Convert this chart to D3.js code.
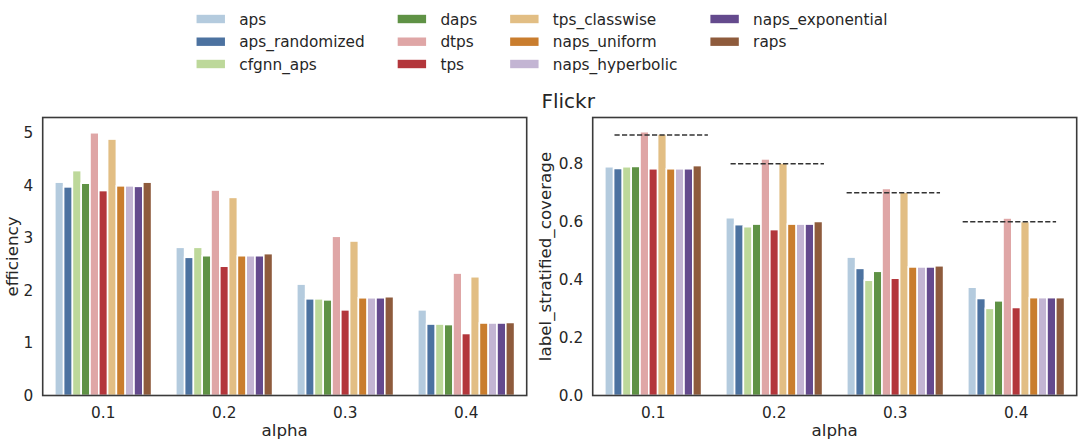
<!DOCTYPE html>
<html>
<head>
<meta charset="utf-8">
<script src="https://cdn.jsdelivr.net/npm/d3@7"></script>
<style>
  body { margin: 0; background: #fff; }
  svg { display: block; font-family: "DejaVu Sans", sans-serif; }
</style>
</head>
<body>
<script>
var alphas = ["0.1", "0.2", "0.3", "0.4"];
var methods = ["aps", "aps_randomized", "cfgnn_aps", "daps", "dtps", "tps",
  "tps_classwise", "naps_uniform", "naps_hyperbolic", "naps_exponential", "raps"];
var colors = ["#b4cbde", "#4c72a0", "#bdd89a", "#5f9245", "#dfa6a6", "#b3363b",
  "#e2be84", "#c97d2e", "#c3b5d3", "#644a8d", "#8e5b3c"];

// efficiency, one array per alpha (same order as methods)
var eff01 = [4.06, 3.97, 4.28, 4.04, 5.00, 3.90, 4.88, 3.99, 3.99, 3.98, 4.06];
var eff02 = [2.82, 2.63, 2.82, 2.66, 3.91, 2.46, 3.77, 2.66, 2.66, 2.66, 2.70];
var eff03 = [2.12, 1.84, 1.84, 1.82, 3.03, 1.63, 2.94, 1.86, 1.86, 1.86, 1.88];
var eff04 = [1.63, 1.36, 1.36, 1.35, 2.33, 1.18, 2.26, 1.38, 1.38, 1.38, 1.39];

// label_stratified_coverage
var cov01 = [0.790, 0.784, 0.790, 0.791, 0.911, 0.783, 0.903, 0.783, 0.783, 0.783, 0.794];
var cov02 = [0.614, 0.590, 0.583, 0.592, 0.817, 0.573, 0.803, 0.592, 0.592, 0.592, 0.601];
var cov03 = [0.478, 0.439, 0.398, 0.429, 0.715, 0.405, 0.702, 0.444, 0.444, 0.444, 0.448];
var cov04 = [0.374, 0.335, 0.301, 0.327, 0.613, 0.304, 0.601, 0.338, 0.338, 0.338, 0.338];

// target coverage (1 - alpha)
var targets = [0.9, 0.8, 0.7, 0.6];

var effTicks = [0, 1, 2, 3, 4, 5];
var covTicks = [0, 0.2, 0.4, 0.6, 0.8];

function toRows(arrs) {
  var rows = [];
  arrs.forEach(function(a, i) {
    a.forEach(function(v, j) {
      rows.push({alpha: alphas[i], method: methods[j], value: v});
    });
  });
  return rows;
}
var effData = toRows([eff01, eff02, eff03, eff04]);
var covData = toRows([cov01, cov02, cov03, cov04]);

var W = 1084, H = 444;
var svg = d3.select("body").append("svg")
  .attr("width", W)
  .attr("height", H);

var color = d3.scaleOrdinal().domain(methods).range(colors);

var plotTop = 117.5, plotBottom = 395.5;

function drawPanel(opts) {
  var x = d3.scaleBand().domain(alphas).range([opts.left, opts.right]);
  var xm = d3.scaleBand().domain(methods)
    .range([x.bandwidth() * 0.1, x.bandwidth() * 0.9]);
  var y = d3.scaleLinear().domain(opts.domain).range([plotBottom, plotTop]);

  var g = svg.append("g");

  //bars
  g.selectAll("rect.bar")
    .data(opts.data)
    .enter().append("rect")
    .attr("class", "bar")
    .attr("x", function(d) { return x(d.alpha) + xm(d.method); })
    .attr("y", function(d) { return y(d.value); })
    .attr("width", xm.bandwidth())
    .attr("height", function(d) { return y(0) - y(d.value); })
    .attr("fill", function(d) { return color(d.method); })
    .attr("stroke", "#fff")
    .attr("stroke-width", 1.6);

  //dashed target lines
  if (opts.targets) {
    var w = opts.right - opts.left;
    g.selectAll("line.target")
      .data(opts.targets)
      .enter().append("line")
      .attr("class", "target")
      .attr("x1", function(d, i) { return opts.left + w * (0.045 + 0.2398 * i); })
      .attr("x2", function(d, i) { return opts.left + w * (0.238 + 0.2398 * i); })
      .attr("y1", function(d) { return y(d); })
      .attr("y2", function(d) { return y(d); })
      .attr("stroke", "#333")
      .attr("stroke-width", 1.5)
      .attr("stroke-dasharray", "5.2,2.3");
  }

  //axes
  var ax = g.append("g")
    .attr("transform", "translate(0," + plotBottom + ")")
    .call(d3.axisBottom(x).tickSize(0).tickPadding(12));
  ax.select(".domain").remove();

  var ay = g.append("g")
    .attr("transform", "translate(" + opts.left + ",0)")
    .call(d3.axisLeft(y).tickValues(opts.ticks).tickFormat(opts.fmt)
      .tickSize(0).tickPadding(9.5));
  ay.select(".domain").remove();

  g.selectAll(".tick text")
    .attr("fill", "#262626")
    .style("font-family", "'DejaVu Sans', sans-serif")
    .style("font-size", "15.3px");

  //frame
  g.append("rect")
    .attr("x", opts.left)
    .attr("y", plotTop)
    .attr("width", opts.right - opts.left)
    .attr("height", plotBottom - plotTop)
    .attr("fill", "none")
    .attr("stroke", "#3a3a3a")
    .attr("stroke-width", 1.6);

  //axis labels
  g.append("text")
    .attr("x", (opts.left + opts.right) / 2)
    .attr("y", 436)
    .attr("text-anchor", "middle")
    .attr("fill", "#262626")
    .style("font-size", "16.7px")
    .text("alpha");

  g.append("text")
    .attr("transform", "translate(" + opts.ylabelX + "," + (plotTop + plotBottom) / 2 + ") rotate(-90)")
    .attr("text-anchor", "middle")
    .attr("fill", "#262626")
    .style("font-size", "16.7px")
    .text(opts.ylabel);
}

drawPanel({
  left: 42.7, right: 526.7,
  domain: [0, 5.29],
  data: effData,
  ticks: effTicks,
  fmt: d3.format("d"),
  ylabel: "efficiency",
  ylabelX: 17.5
});

drawPanel({
  left: 592.7, right: 1076.7,
  domain: [0, 0.96],
  data: covData,
  ticks: covTicks,
  fmt: d3.format(".1f"),
  ylabel: "label_stratified_coverage",
  ylabelX: 551,
  targets: targets
});

//title
svg.append("text")
  .attr("x", 541.5)
  .attr("y", 108)
  .attr("fill", "#262626")
  .style("font-size", "20px")
  .text("Flickr");

//legend, 3 rows, filled column by column
var nRows = 3;
var rowY = [19, 41.7, 64];
var legend = svg.append("g");
var items = legend.selectAll("g.item")
  .data(methods)
  .enter().append("g")
  .attr("class", "item");

items.append("rect")
  .attr("width", 28.4)
  .attr("height", 8.4)
  .attr("y", -4.2)
  .attr("fill", function(d) { return color(d); });

items.append("text")
  .attr("x", 42.7)
  .attr("y", 5.5)
  .attr("fill", "#262626")
  .style("font-size", "15.3px")
  .text(function(d) { return d; });

var colW = [];
items.each(function(d, i) {
  var c = Math.floor(i / nRows);
  var tw = this.querySelector("text").getComputedTextLength();
  colW[c] = Math.max(colW[c] || 0, 42.7 + tw);
});
var colX = [0];
for (var c = 1; c < colW.length; c++) colX[c] = colX[c - 1] + colW[c - 1] + 33;
var legW = colX[colW.length - 1] + colW[colW.length - 1];

items.attr("transform", function(d, i) {
  var c = Math.floor(i / nRows), r = i % nRows;
  return "translate(" + colX[c] + "," + rowY[r] + ")";
});
legend.attr("transform", "translate(" + (W / 2 - legW / 2) + ",0)");
</script>
</body>
</html>
